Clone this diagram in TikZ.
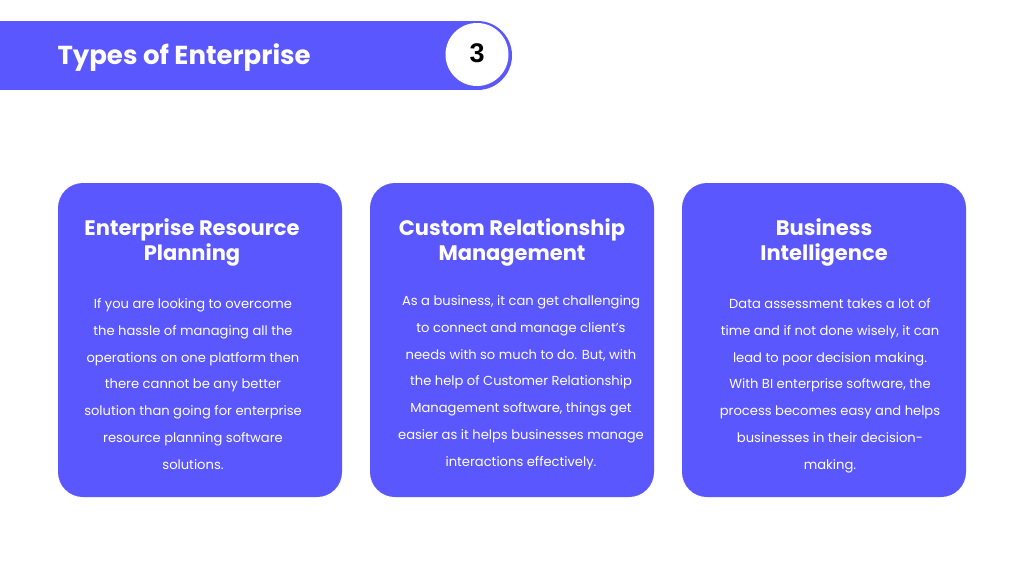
\documentclass[tikz,border=0pt]{standalone}
\usepackage{fontspec}
\setmainfont{Poppins}
\newfontfamily\numfont{Liberation Sans}
\definecolor{brand}{HTML}{5A57FF}
\begin{document}
\begin{tikzpicture}[x=1pt,y=-1pt,
  card/.style={fill=brand, rounded corners=25pt},
  cardtitle/.style={text=white, font=\fontsize{21}{25.5}\selectfont\bfseries, align=center, anchor=north},
  cardbody/.style={text=white, font=\fontsize{13.1}{26.8}\selectfont, align=center, anchor=north}]
\useasboundingbox (0,0) rectangle (1024,576);
\fill[white] (0,0) rectangle (1024,576);
% banner
\fill[brand] (0,21) rectangle (477,90);
\node[circle, fill=brand, minimum size=69pt, inner sep=0pt] (ring) at (477.5,55.5) {};
\node[circle, fill=white, minimum size=63pt, inner sep=0pt] (num) at (477,54.5) {};
\node[font=\numfont\fontsize{27}{30}\selectfont\bfseries, text=black] (numtxt) at (477,53.5) {3};
\node[anchor=west, text=white, font=\fontsize{26}{30}\selectfont\bfseries] (title) at (54,57.5) {Types of Enterprise};
% cards
\fill[card] (58,183) rectangle (342,497);
\fill[card] (370,183) rectangle (654,497);
\fill[card] (682,183) rectangle (966,497);
\node[cardtitle] (t1) at (192,215) {Enterprise Resource\\Planning};
\node[cardtitle] (t2) at (512,215) {Custom Relationship\\Management};
\node[cardtitle] (t3) at (824,215) {Business\\Intelligence};
\node[cardbody] (b1) at (193,295) {If you are looking to overcome\\the hassle of managing all the\\operations on one platform then\\there cannot be any better\\solution than going for enterprise\\resource planning software\\solutions.};
\node[cardbody] (b2) at (521,292) {As a business, it can get challenging\\to connect and manage client’s\\needs with so much to do. But, with\\the help of Customer Relationship\\Management software, things get\\easier as it helps businesses manage\\interactions effectively.};
\node[cardbody] (b3) at (830,295) {Data assessment takes a lot of\\time and if not done wisely, it can\\lead to poor decision making.\\With BI enterprise software, the\\process becomes easy and helps\\businesses in their decision-\\making.};
\end{tikzpicture}
\end{document}
